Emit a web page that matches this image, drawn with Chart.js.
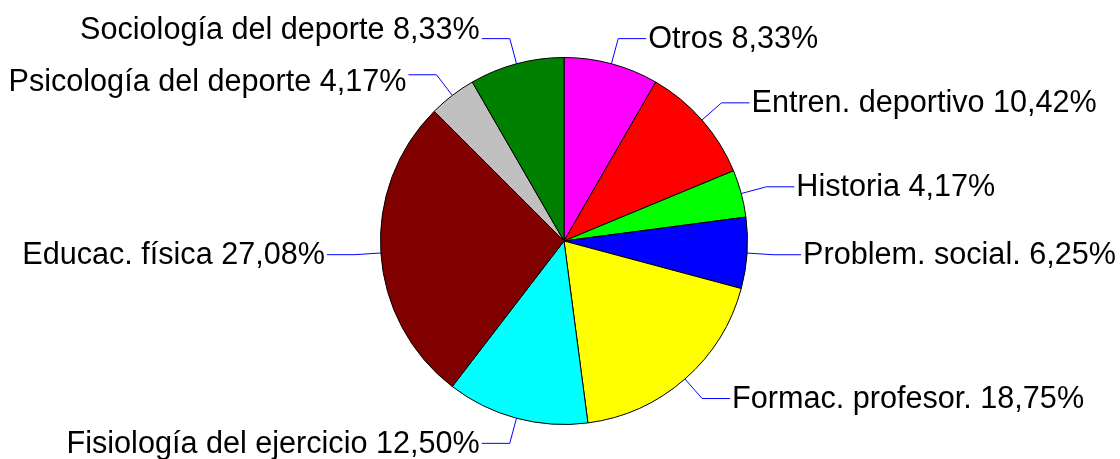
<!DOCTYPE html>
<html>
<head>
<meta charset="utf-8">
<script src="https://cdn.jsdelivr.net/npm/chart.js@4/dist/chart.umd.min.js"></script>
<style>
  html, body { margin: 0; padding: 0; background: #fff; }
  #pieChart { display: block; }
</style>
</head>
<body>
<canvas id="pieChart" width="1120" height="459"></canvas>
<script>
const ctx = document.getElementById("pieChart").getContext("2d");

// Categories, clockwise from 12 o'clock
const labels = [
    "Otros",
    "Entren. deportivo",
    "Historia",
    "Problem. social.",
    "Formac. profesor.",
    "Fisiología del ejercicio",
    "Educac. física",
    "Psicología del deporte",
    "Sociología del deporte"
];
const percents = [8.33, 10.42, 4.17, 6.25, 18.75, 12.50, 27.08, 4.17, 8.33];
const sliceColors = ["#FF00FF", "#FF0000", "#00FF00", "#0000FF", "#FFFF00", "#00FFFF", "#800000", "#C0C0C0", "#008000"];

const fmt = v => v.toFixed(2).replace(".", ",") + "%";

// Leader lines + labels drawn around the pie
const outsideLabels = {
    id: "outsideLabels",
    afterDatasetsDraw(chart) {
        const c = chart.ctx;
        const arcs = chart.getDatasetMeta(0).data;
        const items = arcs.map((arc, i) => {
            const mid = (arc.startAngle + arc.endAngle) / 2;
            const r = arc.outerRadius;
            const ex = arc.x + Math.cos(mid) * r, ey = arc.y + Math.sin(mid) * r;
            const kx = arc.x + Math.cos(mid) * (r + 26), ky = arc.y + Math.sin(mid) * (r + 26);
            const right = Math.cos(mid) >= 0;
            const hx = kx + (right ? 28 : -28);
            return { i, ex, ey, kx, ky, hx, right, ty: ky };
        });
        // keep labels on the same side apart
        [true, false].forEach(side => {
            const s = items.filter(it => it.right === side).sort((a, b) => a.ky - b.ky);
            for (let k = 1; k < s.length; k++) {
                const gap = s[k].ty - s[k - 1].ty;
                if (gap < 52) {
                    const push = (52 - gap) / 2;
                    s[k - 1].ty -= push + 1.5;
                    s[k].ty += push - 1.5;
                }
            }
        });
        c.save();
        c.strokeStyle = "#0000FF";
        c.lineWidth = 1;
        c.font = "30.6px 'Liberation Sans', Arial, sans-serif";
        c.fillStyle = "#000";
        c.textBaseline = "middle";
        items.forEach(it => {
            c.beginPath();
            c.moveTo(it.ex, it.ey);
            c.lineTo(it.kx, it.ky);
            c.lineTo(it.hx, it.ky);
            c.stroke();
            c.textAlign = it.right ? "left" : "right";
            c.fillText(labels[it.i] + " " + fmt(percents[it.i]), it.hx + (it.right ? 2 : -2), it.ty + 1);
        });
        c.restore();
    }
};

const pieChart = new Chart(ctx, {
    type: "pie",
    data: {
        labels: labels,
        datasets: [{
            data: percents,
            backgroundColor: sliceColors,
            borderColor: "#000000",
            borderWidth: 1
        }]
    },
    options: {
        responsive: false,
        animation: false,
        layout: { padding: { top: 57, bottom: 34, left: 380, right: 372 } },
        plugins: {
            legend: { display: false },
            tooltip: { enabled: false }
        }
    },
    plugins: [outsideLabels]
});
</script>
</body>
</html>
